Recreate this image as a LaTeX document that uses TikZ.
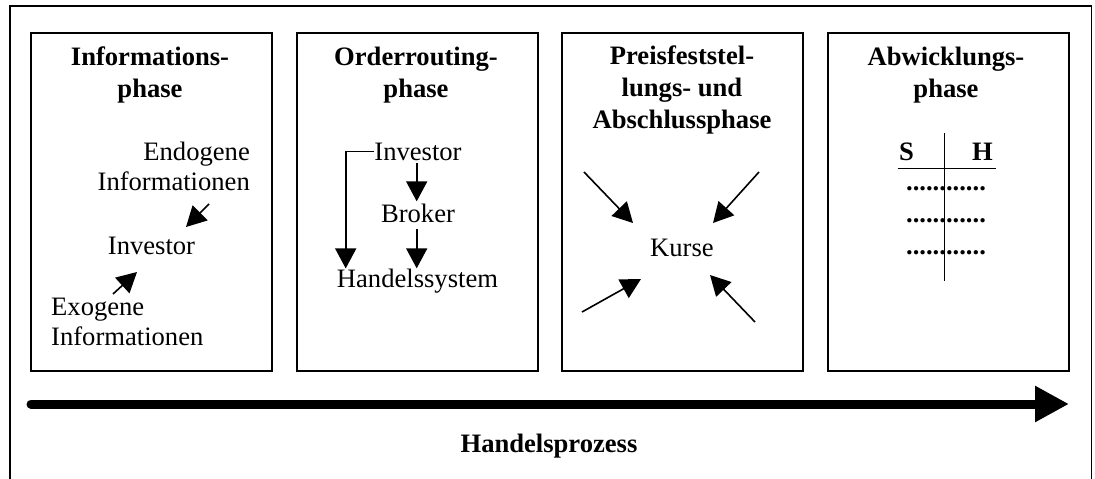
\documentclass[tikz,border=0pt]{standalone}
\usepackage{fontspec}
\setmainfont{Liberation Serif}
\usetikzlibrary{positioning,arrows.meta}

\tikzset{
  phase/.style={draw, line width=1.6pt, minimum width=241pt, minimum height=338pt, anchor=north west, inner sep=0pt},
  titel/.style={font=\bfseries\fontsize{26.6}{32}\selectfont, align=center, anchor=base, inner sep=0pt},
  txt/.style={font=\fontsize{26.6}{30}\selectfont, anchor=base, inner sep=0pt},
  pfeil/.style={-{Triangle[length=20pt,width=21pt]}, line width=1.6pt},
}

\begin{document}
\begin{tikzpicture}[x=1pt,y=-1pt]
    \useasboundingbox (0,0) rectangle (1095,479);

    % Outer frame (open at the bottom)
    \draw[line width=1.6pt] (10,485) -- (10,6) -- (1091.5,6) -- (1091.5,485);

    % The four phases
    \node[phase] (info)   at (30,32)  {};
    \node[phase] (order)  at (296,32) {};
    \node[phase] (preis)  at (561,32) {};
    \node[phase] (abw)    at (827,32) {};

    % titles: base = baseline of the last line
    \node[titel] (infotitel)  at (150,97)  {Informations-\\phase};
    \node[titel] (ordertitel) at (416,97)  {Orderrouting-\\phase};
    \node[titel] (preistitel) at (682,128) {Preisfeststel-\\lungs- und\\Abschlussphase};
    \node[titel] (abwtitel)   at (946,97)  {Abwicklungs-\\phase};

    % Informationsphase
    \node[txt, align=right, anchor=base east] (endo) at (250,190) {Endogene\\Informationen};
    \node[txt] (inv1) at (151.5,254) {Investor};
    \node[txt, align=left, anchor=base west] (exo) at (51,345) {Exogene\\Informationen};
    \coordinate (endoend) at (209,204);
    \coordinate (endotip) at (186,227);
    \coordinate (exoend)  at (113,294);
    \coordinate (exotip)  at (137,272);
    \draw[pfeil] (endoend) -- (endotip);
    \draw[pfeil] (exoend) -- (exotip);

    % Orderroutingphase
    \node[txt] (inv2)   at (418,160) {Investor};
    \node[txt] (broker) at (418,222) {Broker};
    \node[txt] (hsys)   at (417.5,287) {Handelssystem};
    \draw[pfeil] ([xshift=-1.3pt,yshift=-3pt]inv2.south) -- ([xshift=-1.3pt,yshift=2pt]broker.north);
    \draw[pfeil] ([xshift=-1.3pt,yshift=-7pt]broker.south) -- ([xshift=-0.8pt]hsys.north);
    \draw[pfeil] (inv2.west) -- ++(-28.5,0) -- ++(0,117);

    % Preisfeststellungs- und Abschlussphase
    \node[txt] (kurse) at (682,256) {Kurse};
    \coordinate (olvon) at (584,172);  \coordinate (olnach) at (633,223);
    \coordinate (orvon) at (759,172);  \coordinate (ornach) at (713,223);
    \coordinate (ulvon) at (582,312);  \coordinate (ulnach) at (641,279);
    \coordinate (urvon) at (755,322);  \coordinate (urnach) at (710,275);
    \foreach \ecke in {ol,or,ul,ur}
      \draw[pfeil] (\ecke von) -- (\ecke nach);

    % Abwicklungsphase: T-Konto
    \node[txt, font=\bfseries\fontsize{26.6}{30}\selectfont, anchor=base west] (soll)  at (899,160) {S};
    \node[txt, font=\bfseries\fontsize{26.6}{30}\selectfont, anchor=base east] (haben) at (993,160) {H};
    \coordinate (kontooben)  at (944.3,133);
    \coordinate (kontounten) at (944.3,281);
    \coordinate (kontolinks) at (897.7,168.3);
    \coordinate (kontorechts) at (996,168.3);
    \draw[line width=1.6pt] (kontooben) -- (kontounten);
    \draw[line width=1.6pt] (kontolinks) -- (kontorechts);
    \foreach \y/\n in {190.5/1, 222.5/2, 254/3}
      \node[txt, font=\bfseries\fontsize{26.6}{30}\selectfont] (zeile\n) at (946,\y) {............};

    % Handelsprozess
    \coordinate (start) at (31,404);
    \coordinate (ende)  at (1069,404);
    \draw[line width=9pt, line cap=round, -{Triangle[length=34pt,width=34pt]}] (start) -- (ende);
    \node[titel] (prozess) at (549,452) {Handelsprozess};

\end{tikzpicture}
\end{document}
